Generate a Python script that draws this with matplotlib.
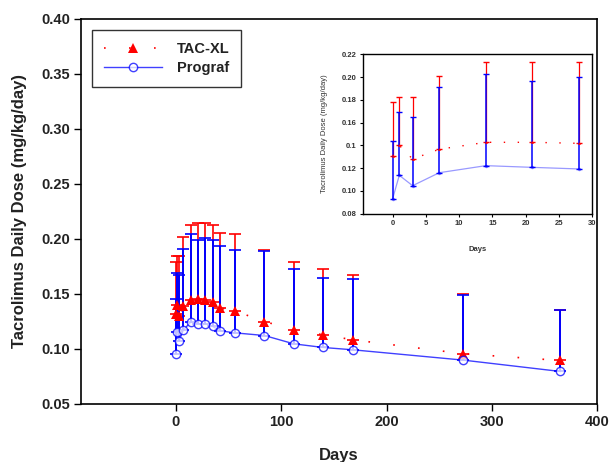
import matplotlib
matplotlib.use('Agg')
import matplotlib.pyplot as plt

plt.rcParams['font.family'] = ['Liberation Sans', 'DejaVu Sans']

# main chart data
days = [0, 1, 3, 7, 14, 21, 28, 35, 42, 56, 84, 112, 140, 168, 273, 365]
tacxl = [0.132, 0.140, 0.130, 0.1385, 0.1445, 0.1455, 0.1445, 0.143, 0.137, 0.1345,
         0.1248, 0.1175, 0.1127, 0.1082, 0.0955, 0.0894]
tacxl_upper = [0.179, 0.184, 0.184, 0.202, 0.213, 0.2145, 0.2145, 0.213, 0.2057, 0.2045,
               0.190, 0.1788, 0.1727, 0.167, 0.1497, 0.1355]
prograf = [0.0957, 0.1157, 0.1073, 0.117, 0.1243, 0.1227, 0.1227, 0.1203, 0.1164, 0.1145,
           0.1121, 0.1045, 0.1012, 0.0991, 0.0897, 0.0794]
prograf_upper = [0.1452, 0.169, 0.167, 0.1912, 0.2048, 0.1988, 0.2009, 0.1988, 0.1936, 0.190,
                 0.1894, 0.173, 0.1645, 0.1634, 0.149, 0.1355]

# inset (first 28 days)
inset_days = [0, 1, 3, 7, 14, 21, 28]
inset_tacxl = [0.1307, 0.140, 0.128, 0.1366, 0.1427, 0.1427, 0.1418]
inset_tacxl_upper = [0.178, 0.1825, 0.1825, 0.201, 0.213, 0.213, 0.213]
inset_prograf = [0.0932, 0.1137, 0.1046, 0.116, 0.1222, 0.1207, 0.1193]
inset_prograf_upper = [0.144, 0.169, 0.165, 0.191, 0.2027, 0.1969, 0.200]
inset_yticks = [0.08, 0.10, 0.12, 0.14, 0.16, 0.18, 0.20, 0.22]
inset_yticklabels = ['0.08', '0.10', '0.12', '0.1', '0.16', '0.18', '0.20', '0.22']

RED = '#ff0000'
BLUE = '#0000ff'
TXT = '#222222'

fig = plt.figure(figsize=(6.1, 4.62), dpi=100)
ax = fig.add_axes([0.133, 0.126, 0.846, 0.833])

t_err = [[0] * len(days), [u - v for u, v in zip(tacxl_upper, tacxl)]]
p_err = [[0] * len(days), [u - v for u, v in zip(prograf_upper, prograf)]]

ax.errorbar(days, tacxl, yerr=t_err, fmt='none', ecolor=RED, elinewidth=1.2,
            capsize=4.5, capthick=1.2, zorder=2)
ax.errorbar(days, prograf, yerr=p_err, fmt='none', ecolor=BLUE, elinewidth=1.4,
            capsize=4.5, capthick=1.2, zorder=3)
ax.plot(days, tacxl, color=RED, linestyle=(0, (1, 14)), linewidth=1.2,
        marker='^', markersize=7, markeredgewidth=0, label='TAC-XL', zorder=4)
ax.plot(days, prograf, color=BLUE, alpha=0.75, linewidth=1.0, marker='o', markersize=6,
        markerfacecolor='white', markeredgecolor=BLUE, markeredgewidth=1.0,
        label='Prograf', zorder=5)

ax.set_xlim(-90, 400)
ax.set_ylim(0.05, 0.40)
ax.set_xticks([0, 100, 200, 300, 400])
ax.set_yticks([0.05, 0.10, 0.15, 0.20, 0.25, 0.30, 0.35, 0.40])
ax.set_yticklabels(['%.2f' % v for v in ax.get_yticks()])
ax.tick_params(direction='out', length=5, width=1, labelsize=10.5, pad=3)
for lab in ax.get_xticklabels() + ax.get_yticklabels():
    lab.set_fontweight('bold')
    lab.set_color(TXT)
ax.set_xlabel('Days', fontsize=12, fontweight='bold', color=TXT, labelpad=14)
ax.set_ylabel('Tacrolimus Daily Dose (mg/kg/day)', fontsize=12, fontweight='bold',
              color=TXT, labelpad=10)
for s in ax.spines.values():
    s.set_linewidth(1.2)

leg = ax.legend(loc='upper left', bbox_to_anchor=(0.021, 0.971), borderaxespad=0,
                fontsize=10.5, frameon=True, fancybox=False, edgecolor='black',
                handlelength=4, borderpad=0.8, labelspacing=0.35, handletextpad=1.0)
leg.get_frame().set_linewidth(1.0)
for t in leg.get_texts():
    t.set_fontweight('bold')
    t.set_color(TXT)

# inset
ins = fig.add_axes([362.7 / 610, 1 - 213.7 / 462, (592.3 - 362.7) / 610, (213.7 - 54.3) / 462])
it_err = [[0] * len(inset_days), [u - v for u, v in zip(inset_tacxl_upper, inset_tacxl)]]
ip_err = [[0] * len(inset_days), [u - v for u, v in zip(inset_prograf_upper, inset_prograf)]]
ins.errorbar(inset_days, inset_tacxl, yerr=it_err, fmt='none', ecolor=RED, elinewidth=0.9,
             capsize=2.5, capthick=1.0, zorder=2)
ins.errorbar(inset_days, inset_prograf, yerr=ip_err, fmt='none', ecolor=BLUE, elinewidth=1.1,
             capsize=2.5, capthick=1.0, zorder=3)
ins.plot(inset_days, inset_tacxl, color=RED, linestyle=(0, (1, 9)), linewidth=1.0,
         marker='^', markersize=2, markeredgewidth=0, zorder=4)
ins.plot(inset_days, inset_prograf, color=BLUE, alpha=0.4, linewidth=0.9,
         marker='o', markersize=1.5, zorder=5)
ins.set_xlim(-4.5, 30)
ins.set_ylim(0.08, 0.22)
ins.set_xticks([0, 5, 10, 15, 20, 25, 30])
ins.set_yticks(inset_yticks)
ins.set_yticklabels(inset_yticklabels)
ins.tick_params(direction='out', length=2.5, width=0.8, labelsize=5.5, pad=2)
for lab in ins.get_xticklabels() + ins.get_yticklabels():
    lab.set_fontweight('bold')
    lab.set_color('#333333')
ins.set_xlabel('Days', fontsize=5.5, fontweight='bold', color='#333333', labelpad=14)
ins.set_ylabel('Tacrolimus Daily Dose (mg/kg/day)', fontsize=5.5, color='#333333', labelpad=10)
for s in ins.spines.values():
    s.set_linewidth(1.0)

fig.savefig('out.png', dpi=100)
